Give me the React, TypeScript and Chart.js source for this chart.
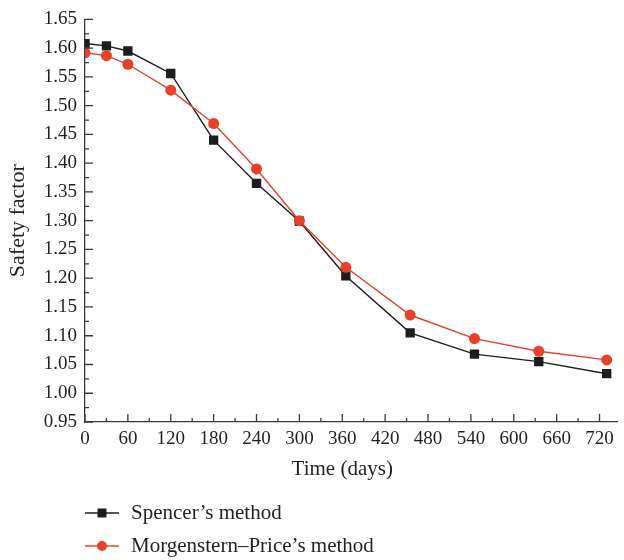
import React, { useEffect, useRef } from "react";
import { Chart, registerables } from "chart.js";

Chart.register(...registerables);

// ---- Data ----
const days = [0, 30, 60, 120, 180, 240, 300, 365, 455, 545, 635, 730];
const spencer = [1.608, 1.604, 1.595, 1.556, 1.44, 1.365, 1.299, 1.204, 1.105, 1.068, 1.055, 1.034];
const morgensternPrice = [1.592, 1.587, 1.572, 1.527, 1.469, 1.39, 1.3, 1.219, 1.136, 1.095, 1.073, 1.058];
const seriesNames = ["Spencer\u2019s method", "Morgenstern\u2013Price\u2019s method"];
const xTickValues = [0, 60, 120, 180, 240, 300, 360, 420, 480, 540, 600, 660, 720];
const yTickValues = [0.95, 1.0, 1.05, 1.1, 1.15, 1.2, 1.25, 1.3, 1.35, 1.4, 1.45, 1.5, 1.55, 1.6, 1.65];
const xTitle = "Time (days)";
const yTitle = "Safety factor";

const FONT = "'Liberation Serif', 'Times New Roman', serif";
const TEXT = "#231f20";
const BLACK = "#1d1d1b";
const RED = "#e8412b";
const AXIS = "#3a3a3a";

const axisTicksPlugin = {
  id: "innerTicks",
  afterDraw(chart: any) {
    const ctx = chart.ctx;
    const xs = chart.scales.x;
    const ys = chart.scales.y;
    const area = chart.chartArea;
    ctx.save();
    ctx.strokeStyle = AXIS;
    ctx.lineWidth = 1.3;
    ctx.beginPath();
    for (let i = 0; i < xTickValues.length; i++) {
      const px = xs.getPixelForValue(xTickValues[i]);
      ctx.moveTo(px, area.bottom);
      ctx.lineTo(px, area.bottom - 8);
      if (i < xTickValues.length - 1) {
        const mid = (xTickValues[i] + xTickValues[i + 1]) / 2;
        const pm = xs.getPixelForValue(mid);
        ctx.moveTo(pm, area.bottom);
        ctx.lineTo(pm, area.bottom - 4);
      }
    }
    for (let i = 0; i < yTickValues.length; i++) {
      const py = ys.getPixelForValue(yTickValues[i]);
      ctx.moveTo(area.left, py);
      ctx.lineTo(area.left + 8, py);
      if (i < yTickValues.length - 1) {
        const mid = (yTickValues[i] + yTickValues[i + 1]) / 2;
        const pm = ys.getPixelForValue(mid);
        ctx.moveTo(area.left, pm);
        ctx.lineTo(area.left + 4, pm);
      }
    }
    ctx.stroke();
    // x-axis title, centred under the labelled range
    const cx = (xs.getPixelForValue(xTickValues[0]) + xs.getPixelForValue(xTickValues[xTickValues.length - 1])) / 2;
    ctx.fillStyle = TEXT;
    ctx.font = `21px ${FONT}`;
    ctx.textAlign = "center";
    ctx.textBaseline = "alphabetic";
    ctx.fillText(xTitle, cx, area.bottom + 53);
    ctx.restore();
  },
};

const legendPlugin = {
  id: "customLegend",
  afterDraw(chart: any) {
    const ctx = chart.ctx;
    const rows = [513, 546];
    ctx.save();
    chart.data.datasets.forEach((ds: any, i: number) => {
      const y = rows[i];
      ctx.strokeStyle = ds.borderColor;
      ctx.lineWidth = 1.5;
      ctx.beginPath();
      ctx.moveTo(85, y);
      ctx.lineTo(119, y);
      ctx.stroke();
      ctx.fillStyle = ds.pointBackgroundColor;
      ctx.beginPath();
      if (ds.pointStyle === "rect") {
        ctx.rect(102 - 4.5, y - 4.5, 9, 9);
      } else {
        ctx.arc(102, y, 5, 0, Math.PI * 2);
      }
      ctx.fill();
      ctx.fillStyle = TEXT;
      ctx.font = `21px ${FONT}`;
      ctx.textBaseline = "middle";
      ctx.textAlign = "left";
      ctx.fillText(ds.label, 131, y);
    });
    ctx.restore();
  },
};

export default function App() {
  const ref = useRef<HTMLCanvasElement | null>(null);
  useEffect(() => {
    document.body.style.margin = "0";
    const canvas = ref.current!;
    const chart = new Chart(canvas, {
      type: "line",
      data: {
        datasets: [
          {
            label: seriesNames[0],
            data: days.map((d, i) => ({ x: d, y: spencer[i] })),
            borderColor: BLACK,
            backgroundColor: BLACK,
            pointBackgroundColor: BLACK,
            pointBorderColor: BLACK,
            pointStyle: "rect",
            pointRadius: 6.6,
            pointBorderWidth: 0,
            borderWidth: 1.4,
            tension: 0,
            order: 2,
          },
          {
            label: seriesNames[1],
            data: days.map((d, i) => ({ x: d, y: morgensternPrice[i] })),
            borderColor: RED,
            backgroundColor: RED,
            pointBackgroundColor: RED,
            pointBorderColor: RED,
            pointStyle: "circle",
            pointRadius: 5.5,
            pointBorderWidth: 0,
            borderWidth: 1.4,
            tension: 0,
            order: 1,
          },
        ],
      },
      options: {
        responsive: false,
        animation: false,
        devicePixelRatio: 1,
        layout: { padding: { left: 0, right: 0, top: 18, bottom: 78 } },
        plugins: { legend: { display: false }, tooltip: { enabled: false } },
        scales: {
          x: {
            type: "linear",
            min: 0,
            max: 745,
            afterFit: (s: any) => {
              s.height = 60;
            },
            afterBuildTicks: (s: any) => {
              s.ticks = xTickValues.map((v) => ({ value: v }));
            },
            grid: { display: true, drawOnChartArea: false, drawTicks: false, color: AXIS },
            border: { display: true, color: AXIS, width: 1.3 },
            ticks: {
              padding: 6,
              color: TEXT,
              font: { family: FONT, size: 19 },
              maxRotation: 0,
              autoSkip: false,
              callback: (v: any) => String(v),
            },
            title: { display: false, text: xTitle },
          },
          y: {
            type: "linear",
            min: 0.95,
            max: 1.65,
            afterFit: (s: any) => {
              s.width = 85;
            },
            afterBuildTicks: (s: any) => {
              s.ticks = yTickValues.map((v) => ({ value: v }));
            },
            grid: { display: true, drawOnChartArea: false, drawTicks: false, color: AXIS },
            border: { display: true, color: AXIS, width: 1.3 },
            ticks: {
              padding: 8,
              color: TEXT,
              font: { family: FONT, size: 19 },
              autoSkip: false,
              callback: (v: any) => Number(v).toFixed(2),
            },
            title: {
              display: true,
              text: yTitle,
              color: TEXT,
              font: { family: FONT, size: 22, lineHeight: 1.2 },
              padding: { top: 5, bottom: 0 },
            },
          },
        },
      },
      plugins: [axisTicksPlugin, legendPlugin],
    });
    return () => chart.destroy();
  }, []);
  return <canvas ref={ref} width={624} height={560} style={{ display: "block" }} />;
}
